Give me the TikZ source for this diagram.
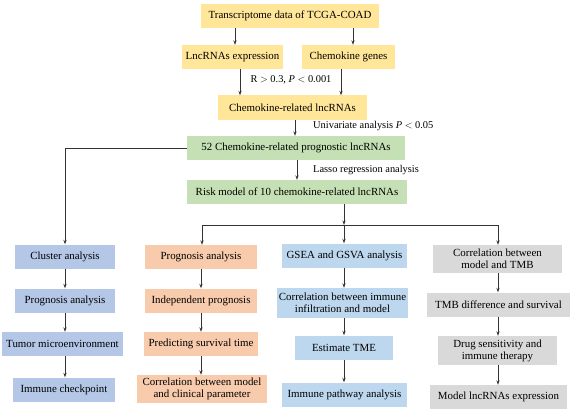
\documentclass[tikz,border=0pt]{standalone}
\usepackage{fontspec}
\setmainfont{Liberation Serif}
\usetikzlibrary{arrows.meta}
\definecolor{cyellow}{RGB}{255,230,153}
\definecolor{cgreen}{RGB}{197,224,180}
\definecolor{cblue}{RGB}{180,199,231}
\definecolor{corange}{RGB}{248,203,173}
\definecolor{clblue}{RGB}{189,215,238}
\definecolor{cgray}{RGB}{217,217,217}
\begin{document}
\begin{tikzpicture}[x=1pt,y=-1pt,
  font=\fontsize{10.9}{12.2}\selectfont,
  box/.style={inner sep=0pt, align=center, text=black, minimum height=24pt},
  ybox/.style={box, fill=cyellow},
  gbox/.style={box, fill=cgreen},
  bbox/.style={box, fill=cblue},
  obox/.style={box, fill=corange},
  lbbox/.style={box, fill=clblue},
  graybox/.style={box, fill=cgray},
  arr/.style={-{Stealth[length=4.5pt,width=3.2pt]}, line width=0.7pt, draw=black!80},
  ln/.style={line width=0.7pt, draw=black!80},
  lbl/.style={inner sep=0pt, font=\fontsize{10.4}{12}\selectfont}]
\useasboundingbox (0,0) rectangle (572,409);

% top part
\node[ybox, minimum width=178pt] (top) at (290,16) {Transcriptome data of TCGA-COAD};
\node[ybox, minimum width=101pt] (lnc) at (232.5,57) {LncRNAs expression};
\node[ybox, minimum width=93pt] (chem) at (348.5,57) {Chemokine genes};
\node[ybox, minimum width=149pt] (crel) at (292.5,107.5) {Chemokine-related lncRNAs};
\node[gbox, minimum width=218pt] (p52) at (296,148) {52 Chemokine-related prognostic lncRNAs};
\node[gbox, minimum width=220pt] (risk) at (297,192) {Risk model of 10 chemokine-related lncRNAs};

% labels
\node[lbl] (l1) at (291,80) {R $>$ 0.3, \textit{P} $<$ 0.001};
\node[lbl, anchor=west] (l2) at (313,126) {Univariate analysis \textit{P} $<$ 0.05};
\node[lbl, anchor=west] (l3) at (313,170) {Lasso regression analysis};

% column 1
\node[bbox, minimum width=100pt] (c1a) at (65,256.5) {Cluster analysis};
\node[bbox, minimum width=100pt] (c1b) at (65,300.5) {Prognosis analysis};
\node[bbox, minimum width=121pt] (c1c) at (62.5,344) {Tumor microenvironment};
\node[bbox, minimum width=102pt] (c1d) at (64,389.5) {Immune checkpoint};

% column 2
\node[obox, minimum width=112pt] (c2a) at (201,257) {Prognosis analysis};
\node[obox, minimum width=112pt] (c2b) at (201,300.5) {Independent prognosis};
\node[obox, minimum width=114pt] (c2c) at (201,344) {Predicting survival time};
\node[obox, minimum width=130pt, minimum height=28pt] (c2d) at (202,389) {Correlation between model\\and clinical parameter};

% column 3
\node[lbbox, minimum width=125pt] (c3a) at (344.5,255.5) {GSEA and GSVA analysis};
\node[lbbox, minimum width=131pt, minimum height=30pt] (c3b) at (342.5,303) {Correlation between immune\\infiltration and model};
\node[lbbox, minimum width=98pt] (c3c) at (344,347.5) {Estimate TME};
\node[lbbox, minimum width=125pt] (c3d) at (344.5,394.5) {Immune pathway analysis};

% column 4
\node[graybox, minimum width=129pt, minimum height=28pt] (c4a) at (497.5,259) {Correlation between\\model and TMB};
\node[graybox, minimum width=143pt] (c4b) at (498.5,304.5) {TMB difference and survival};
\node[graybox, minimum width=119pt, minimum height=29pt] (c4c) at (497.5,350.5) {Drug sensitivity and\\immune therapy};
\node[graybox, minimum width=137pt] (c4d) at (498.5,397) {Model lncRNAs expression};

% connectors top
\draw[arr] ([xshift=-55pt]top.south) -- ([xshift=-55pt]top.south |- lnc.north);
\draw[arr] ([xshift=63pt]top.south) -- ([xshift=63pt]top.south |- chem.north);
\draw[arr] ([xshift=7.5pt]lnc.south) -- ([xshift=7.5pt]lnc.south |- crel.north);
\draw[arr] ([xshift=-7.5pt]chem.south) -- ([xshift=-7.5pt]chem.south |- crel.north);
\draw[arr] ([xshift=2.5pt]crel.south) -- ([xshift=2.5pt]crel.south |- p52.north);
\draw[arr] ([xshift=1pt]p52.south) -- ([xshift=1pt]p52.south |- risk.north);

% branching
\coordinate (j) at (344,225);
\coordinate (jl) at (202,225);
\coordinate (jr) at (498,225);
\draw[arr] (risk.south -| j) -- (j);
\draw[ln] (jl) -- (jr);
\draw[arr] (jl) -- (jl |- c2a.north);
\draw[arr] (j) -- (j |- c3a.north);
\draw[arr] (jr) -- (jr |- c4a.north);
\coordinate (k) at (65,148);
\draw[arr] (p52.west) -- (k) -- (c1a.north);

% column arrows
\draw[arr] (c1a) -- (c1b);
\draw[arr] (c1b.south) -- (c1b.south |- c1c.north);
\draw[arr] (c1c.south -| c1b) -- (c1b |- c1d.north);
\draw[arr] (c2a) -- (c2b);
\draw[arr] (c2b) -- (c2c);
\draw[arr] (c2c.south) -- (c2c.south |- c2d.north);
\draw[arr] (c3a.south -| c3c) -- (c3c |- c3b.north);
\draw[arr] (c3b.south -| c3c) -- (c3c.north);
\draw[arr] (c3c.south) -- (c3c.south |- c3d.north);
\draw[arr] (c4a.south -| jr) -- (jr |- c4b.north);
\draw[arr] (c4b.south -| jr) -- (jr |- c4c.north);
\draw[arr] (c4c.south -| jr) -- (jr |- c4d.north);
\end{tikzpicture}
\end{document}
